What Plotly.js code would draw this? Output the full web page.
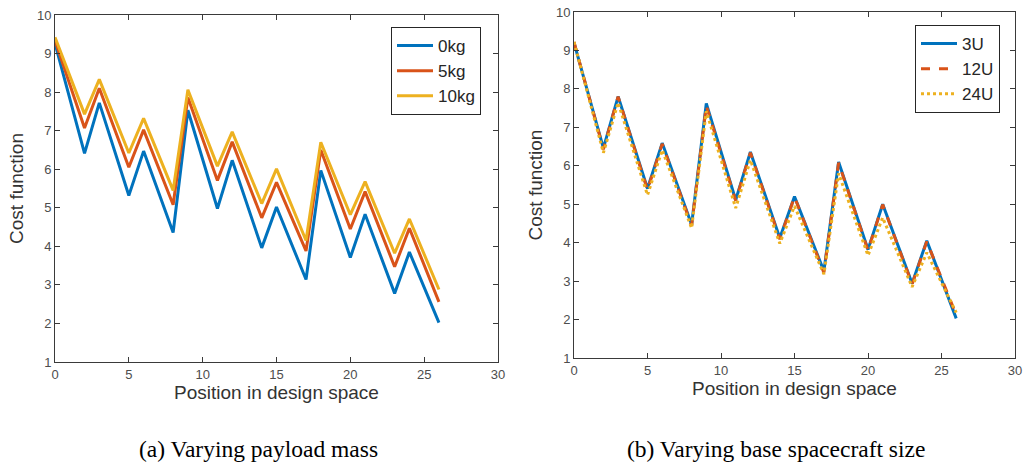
<!DOCTYPE html>
<html>
<head>
<meta charset="utf-8">
<script src="https://cdn.plot.ly/plotly-3.0.1.min.js"></script>
<style>
  html, body { margin: 0; padding: 0; background: #ffffff; }
  #chart { width: 1024px; height: 466px; }
</style>
</head>
<body>
<div id="chart"></div>
<script>
// Positions in design space (vertices of the piecewise-linear curves)
const positions = [0, 2, 3, 5, 6, 8, 9, 11, 12, 14, 15, 17, 18, 20, 21, 23, 24, 26];

// (a) Varying payload mass
const payloadNames = ["0kg", "5kg", "10kg"];
const cost0kg  = [9.26, 6.41, 7.72, 5.32, 6.47, 4.36, 7.53, 4.98, 6.23, 3.96, 5.02, 3.14, 5.97, 3.71, 4.83, 2.78, 3.85, 2.02];
const cost5kg  = [9.34, 7.07, 8.10, 6.05, 7.02, 5.08, 7.86, 5.71, 6.71, 4.74, 5.66, 3.88, 6.50, 4.45, 5.42, 3.47, 4.47, 2.56];
const cost10kg = [9.42, 7.43, 8.33, 6.42, 7.32, 5.45, 8.06, 6.08, 6.97, 5.11, 6.01, 4.15, 6.70, 4.82, 5.68, 3.82, 4.71, 2.88];

// (b) Varying base spacecraft size
const sizeNames = ["3U", "12U", "24U"];
const cost3U  = [9.20, 6.46, 7.80, 5.41, 6.59, 4.47, 7.62, 5.11, 6.36, 4.12, 5.20, 3.26, 6.10, 3.82, 5.00, 2.94, 4.05, 2.03];
const cost12U = [9.22, 6.43, 7.80, 5.37, 6.57, 4.44, 7.56, 5.09, 6.34, 4.09, 5.19, 3.22, 6.08, 3.80, 4.99, 2.92, 4.03, 2.12];
const cost24U = [9.22, 6.34, 7.64, 5.24, 6.41, 4.38, 7.42, 4.90, 6.15, 3.98, 4.95, 3.18, 5.80, 3.67, 4.65, 2.85, 3.74, 2.18];

// Axis labels and captions
const xLabel = "Position in design space";
const yLabel = "Cost function";
const captionA = "(a) Varying payload mass";
const captionB = "(b) Varying base spacecraft size";

const blue = "#0072BD", red = "#D95319", yellow = "#EDB120";
const axisColor = "#3a3a3a";
const tickColor = "#4d4d4d";
const sans = "Liberation Sans, Arial, sans-serif";
const serif = "Liberation Serif, Times New Roman, serif";

const traces = [
  {x: positions, y: cost0kg,  name: payloadNames[0], mode: "lines", line: {color: blue,   width: 3}, xaxis: "x",  yaxis: "y",  legend: "legend"},
  {x: positions, y: cost5kg,  name: payloadNames[1], mode: "lines", line: {color: red,    width: 3}, xaxis: "x",  yaxis: "y",  legend: "legend"},
  {x: positions, y: cost10kg, name: payloadNames[2], mode: "lines", line: {color: yellow, width: 3}, xaxis: "x",  yaxis: "y",  legend: "legend"},
  {x: positions, y: cost3U,   name: sizeNames[0],    mode: "lines", line: {color: blue,   width: 3, dash: "solid"}, xaxis: "x2", yaxis: "y2", legend: "legend2"},
  {x: positions, y: cost12U,  name: sizeNames[1],    mode: "lines", line: {color: red,    width: 3, dash: "dash"},  xaxis: "x2", yaxis: "y2", legend: "legend2"},
  {x: positions, y: cost24U,  name: sizeNames[2],    mode: "lines", line: {color: yellow, width: 3, dash: "dot"},   xaxis: "x2", yaxis: "y2", legend: "legend2"}
];

function xAxis(domain, anchor) {
  return {
    domain: domain, anchor: anchor, range: [0, 30], dtick: 5, tick0: 0,
    showline: true, linecolor: axisColor, linewidth: 1, mirror: "ticks",
    ticks: "inside", ticklen: 5, tickcolor: axisColor, showgrid: false, zeroline: false,
    tickfont: {family: sans, size: 13, color: tickColor},
    title: {text: xLabel, font: {family: sans, size: 19, color: "#333333"}, standoff: 5}
  };
}
function yAxis(domain, anchor) {
  return {
    domain: domain, anchor: anchor, range: [1, 10], dtick: 1, tick0: 0,
    showline: true, linecolor: axisColor, linewidth: 1, mirror: "ticks",
    ticks: "inside", ticklen: 5, tickcolor: axisColor, showgrid: false, zeroline: false,
    tickfont: {family: sans, size: 13, color: tickColor},
    title: {text: yLabel, font: {family: sans, size: 19, color: "#333333"}, standoff: 8}
  };
}

const legendStyle = {
  bgcolor: "#ffffff", bordercolor: "#262626", borderwidth: 1,
  font: {family: sans, size: 17, color: "#262626"},
  xanchor: "left", yanchor: "top", tracegroupgap: 0, itemwidth: 36
};

const layout = {
  width: 1024, height: 466,
  margin: {l: 0, r: 0, t: 0, b: 0},
  paper_bgcolor: "#ffffff", plot_bgcolor: "#ffffff",
  showlegend: true,
  xaxis:  xAxis([55/1024, 498/1024], "y"),
  yaxis:  yAxis([(466-362)/466, (466-15)/466], "x"),
  xaxis2: xAxis([574/1024, 1015/1024], "y2"),
  yaxis2: yAxis([(466-358)/466, (466-12)/466], "x2"),
  legend:  Object.assign({x: 391/1024, y: (466-27)/466}, legendStyle),
  legend2: Object.assign({x: 915/1024, y: (466-25)/466}, legendStyle),
  annotations: [
    {text: captionA, xref: "paper", yref: "paper", x: 258/1024, y: (466-449)/466, xanchor: "center", yanchor: "middle",
     showarrow: false, font: {family: serif, size: 23.5, color: "#000000"}},
    {text: captionB, xref: "paper", yref: "paper", x: 776/1024, y: (466-449)/466, xanchor: "center", yanchor: "middle",
     showarrow: false, font: {family: serif, size: 23.5, color: "#000000"}}
  ]
};

Plotly.newPlot("chart", traces, layout, {staticPlot: true, displayModeBar: false});
</script>
</body>
</html>
